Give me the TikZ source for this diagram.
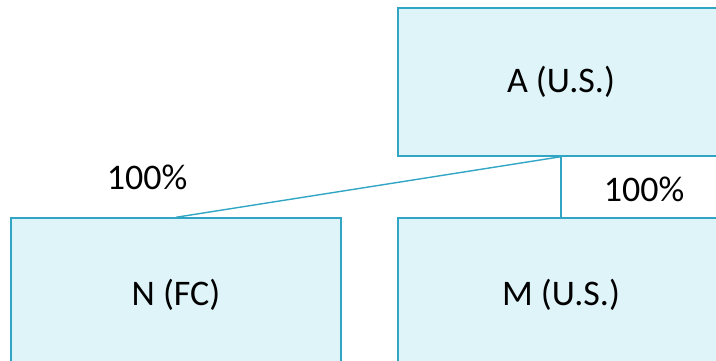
\documentclass[tikz,border=0pt]{standalone}
\usepackage{fontspec}
\setmainfont{Carlito}
\begin{document}
\begin{tikzpicture}[x=1pt,y=1pt,
  entity/.style={draw=kLine,fill=kFill,line width=1.4pt,minimum width=326pt,minimum height=148pt,inner sep=0pt,font=\fontsize{36}{43}\selectfont},
  pct/.style={font=\fontsize{36}{43}\selectfont,inner sep=0pt}]
  \definecolor{kLine}{RGB}{49,166,196}
  \definecolor{kFill}{RGB}{222,244,249}

  \useasboundingbox (0,0) rectangle (716,361);
  \clip (0,0) rectangle (716,361);

  \node[entity] (A) at (561,279) {A (U.S.)};
  \node[entity,minimum width=330pt,minimum height=154pt] (N) at (176,66) {N (FC)};
  \node[entity,minimum height=154pt] (M) at (561,66) {M (U.S.)};

  \draw[color=kLine,line width=1.4pt] (A.south) -- (N.north);
  \draw[color=kLine,line width=1.4pt] (A.south) -- (M.north);

  \node[pct] (pctN) at (147,184) {100\%};
  \node[pct] (pctM) at (644,172) {100\%};
\end{tikzpicture}
\end{document}
